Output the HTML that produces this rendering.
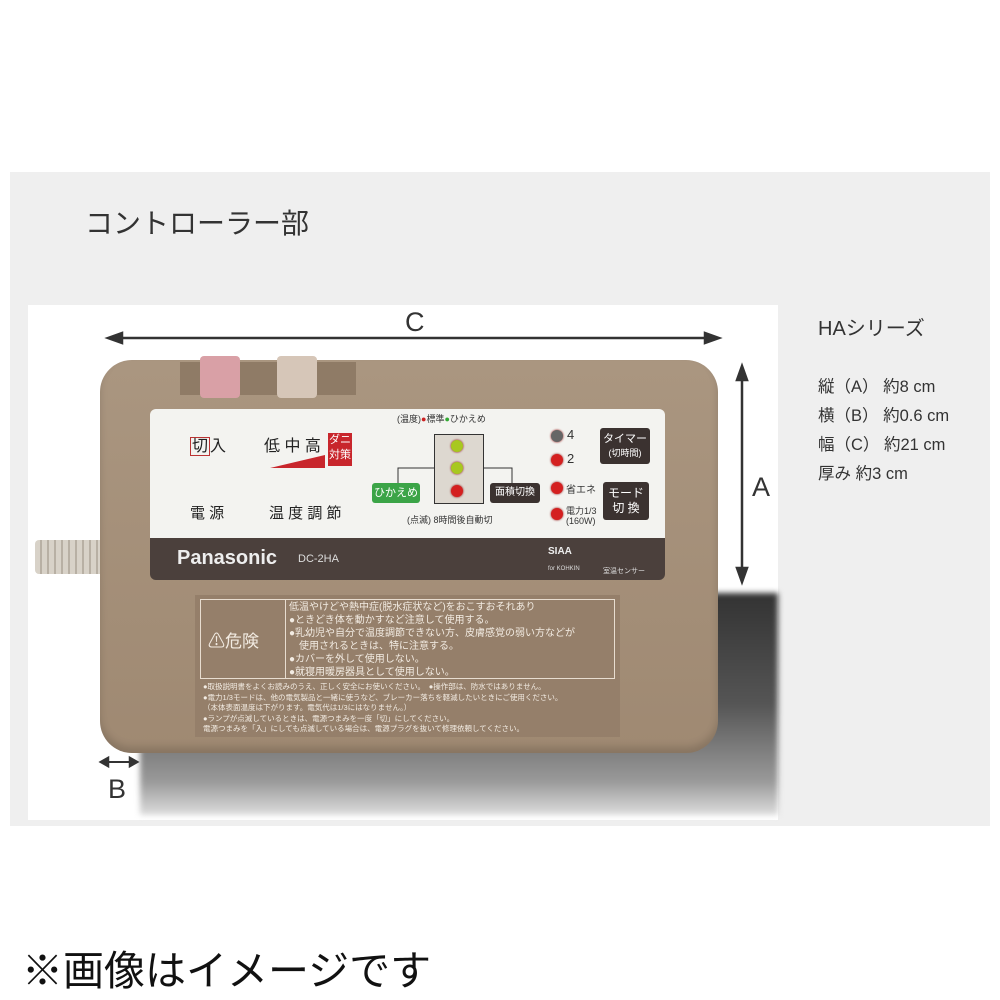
<!DOCTYPE html>
<html><head><meta charset="utf-8"><style>
*{margin:0;padding:0;box-sizing:border-box}
body{width:1000px;height:1000px;background:#fff;position:relative;overflow:hidden;font-family:"Liberation Sans","Noto Sans CJK JP",sans-serif;color:#333}
.a{position:absolute}
.t{white-space:nowrap}
.led{position:absolute;width:12px;height:12px;border-radius:50%;background:#d42020;box-shadow:0 0 2px #800}
.g{background:#a8c820}
</style></head><body>
<div class="a" style="left:10px;top:172px;width:980px;height:654px;background:#efefef"></div>
<div class="a" style="left:28px;top:305px;width:750px;height:515px;background:#fff"></div>
<div class="a" style="left:140px;top:593px;width:638px;height:222px;background:linear-gradient(180deg,#333 0%,#555 50%,#9a9a9a 85%,#ddd 100%);filter:blur(3px)"></div>
<div class="a t" style="left:85px;top:202px;font-size:28px;color:#333">コントローラー部</div>
<div class="a t" style="left:818px;top:312px;font-size:20px">HAシリーズ</div>
<div class="a t" style="left:818px;top:373px;font-size:16.5px;line-height:29px">縦（A） 約8 cm<br>横（B） 約0.6 cm<br>幅（C） 約21 cm<br>厚み 約3 cm</div>
<div class="a t" style="left:22px;top:937px;font-size:41px;color:#111">※画像はイメージです</div>
<svg class="a" style="left:0;top:0" width="1000" height="1000">
<g stroke="#333" stroke-width="2.5" fill="#333">
<line x1="112" y1="338" x2="715" y2="338"/>
<polygon points="108,338 122,333 122,343"/><polygon points="719,338 705,333 705,343"/>
<line x1="742" y1="370" x2="742" y2="578"/>
<polygon points="742,366 737,380 747,380"/><polygon points="742,582 737,568 747,568"/>
<line x1="104" y1="762" x2="134" y2="762" stroke-width="2"/>
<polygon points="101,762 108,758 108,766"/><polygon points="137,762 130,758 130,766"/>
</g>
<text x="405" y="331" font-size="27" fill="#333" font-family="Liberation Sans">C</text>
<text x="752" y="496" font-size="27" fill="#333" font-family="Liberation Sans">A</text>
<text x="108" y="798" font-size="27" fill="#333" font-family="Liberation Sans">B</text>
</svg>
<div class="a" style="left:35px;top:540px;width:70px;height:34px;background:repeating-linear-gradient(90deg,#d8d2c8 0 5px,#b8b0a4 5px 7px);border-radius:4px"></div>
<div class="a" style="left:100px;top:360px;width:618px;height:393px;background:linear-gradient(180deg,#aa9680,#9f8972);border-radius:32px;box-shadow:inset 0 -6px 8px rgba(0,0,0,.15)"></div>
<div class="a" style="left:180px;top:362px;width:176px;height:33px;background:#8f7b66"></div>
<div class="a" style="left:200px;top:356px;width:40px;height:42px;background:#d9a0a6;border-radius:4px"></div>
<div class="a" style="left:277px;top:356px;width:40px;height:42px;background:#d6c6b8;border-radius:4px"></div>
<div class="a" style="left:150px;top:409px;width:515px;height:132px;background:#f3f3f0;border-radius:6px 6px 0 0"></div>
<div class="a" style="left:150px;top:538px;width:515px;height:42px;background:#4b403c;border-radius:0 0 6px 6px"></div>
<div class="a t" style="left:177px;top:547px;font-size:20px;font-weight:bold;color:#eee">Panasonic</div>
<div class="a t" style="left:298px;top:553px;font-size:11px;color:#ddd">DC-2HA</div>
<div class="a t" style="left:548px;top:546px;font-size:10px;color:#eee;font-weight:bold">SIAA</div>
<div class="a t" style="left:548px;top:566px;font-size:6px;color:#ddd">for KOHKIN</div>
<div class="a t" style="left:603px;top:566px;font-size:7px;color:#ddd">室温センサー</div>
<div class="a t" style="left:190px;top:432px;font-size:16px;color:#222"><span style="border:1.5px solid #b33;padding:0 1px">切</span>入</div>
<div class="a t" style="left:264px;top:432px;font-size:16px;color:#222">低 中 高</div>
<div class="a" style="left:328px;top:433px;width:24px;height:33px;background:#c8262c;color:#fff;font-size:11px;line-height:15px;text-align:center">ダニ<br>対策</div>
<svg class="a" style="left:270px;top:453px" width="56" height="16"><polygon points="0,15 55,2 55,15" fill="#c8262c"/></svg>
<div class="a t" style="left:190px;top:502px;font-size:15px;color:#222">電 源</div>
<div class="a t" style="left:269px;top:502px;font-size:15px;color:#222">温 度 調 節</div>
<div class="a t" style="left:397px;top:412px;font-size:9px;color:#333">(温度)<span style="color:#c22">●</span>標準<span style="color:#3a3">●</span>ひかえめ</div>
<div class="a" style="left:434px;top:434px;width:50px;height:70px;border:1.5px solid #333;background:#ddd8d0"></div>
<div class="led g" style="left:451px;top:440px"></div>
<div class="led g" style="left:451px;top:462px"></div>
<div class="led" style="left:451px;top:485px"></div>
<svg class="a" style="left:390px;top:460px" width="130" height="30"><polyline points="8,24 8,8 44,8" fill="none" stroke="#333"/><polyline points="94,8 122,8 122,24" fill="none" stroke="#333"/></svg>
<div class="a t" style="left:372px;top:483px;width:48px;height:20px;background:#3ba447;color:#fff;font-size:11px;line-height:20px;text-align:center;border-radius:3px">ひかえめ</div>
<div class="a t" style="left:490px;top:483px;width:50px;height:20px;background:#3b3230;color:#fff;font-size:10px;line-height:20px;text-align:center;border-radius:3px">面積切換</div>
<div class="a t" style="left:407px;top:513px;font-size:9px;color:#333">(点滅) 8時間後自動切</div>
<div class="led" style="left:551px;top:430px;background:#666"></div>
<div class="led" style="left:551px;top:454px"></div>
<div class="led" style="left:551px;top:482px"></div>
<div class="led" style="left:551px;top:508px"></div>
<div class="a t" style="left:567px;top:427px;font-size:13px">4</div>
<div class="a t" style="left:567px;top:451px;font-size:13px">2</div>
<div class="a t" style="left:566px;top:481px;font-size:10px">省エネ</div>
<div class="a t" style="left:566px;top:506px;font-size:9px;line-height:10px">電力1/3<br>(160W)</div>
<div class="a" style="left:600px;top:428px;width:50px;height:36px;background:#3b3230;color:#fff;font-size:11px;line-height:14px;text-align:center;padding-top:4px;border-radius:3px">タイマー<br><span style="font-size:9px">(切時間)</span></div>
<div class="a" style="left:603px;top:482px;width:46px;height:38px;background:#3b3230;color:#fff;font-size:12px;line-height:15px;text-align:center;padding-top:4px;border-radius:3px">モード<br>切 換</div>
<div class="a" style="left:195px;top:595px;width:425px;height:142px;background:#957f6a"></div>
<div class="a" style="left:200px;top:599px;width:415px;height:80px;border:1px solid #e8ddd0"></div>
<div class="a" style="left:285px;top:599px;width:1px;height:80px;background:#e8ddd0"></div>
<div class="a t" style="left:208px;top:627px;font-size:17px;color:#f2ebe2">⚠危険</div>
<div class="a t" style="left:289px;top:601px;font-size:10px;line-height:13px;color:#f2ebe2">低温やけどや熱中症(脱水症状など)をおこすおそれあり<br>●ときどき体を動かすなど注意して使用する。<br>●乳幼児や自分で温度調節できない方、皮膚感覚の弱い方などが<br>　使用されるときは、特に注意する。<br>●カバーを外して使用しない。<br>●就寝用暖房器具として使用しない。</div>
<div class="a t" style="left:203px;top:682px;font-size:7.5px;line-height:10.5px;color:#f2ebe2">●取扱説明書をよくお読みのうえ、正しく安全にお使いください。　●操作部は、防水ではありません。<br>●電力1/3モードは、他の電気製品と一緒に使うなど、ブレーカー落ちを軽減したいときにご使用ください。<br>（本体表面温度は下がります。電気代は1/3にはなりません。）<br>●ランプが点滅しているときは、電源つまみを一度「切」にしてください。<br>電源つまみを「入」にしても点滅している場合は、電源プラグを抜いて修理依頼してください。</div>
</body></html>
